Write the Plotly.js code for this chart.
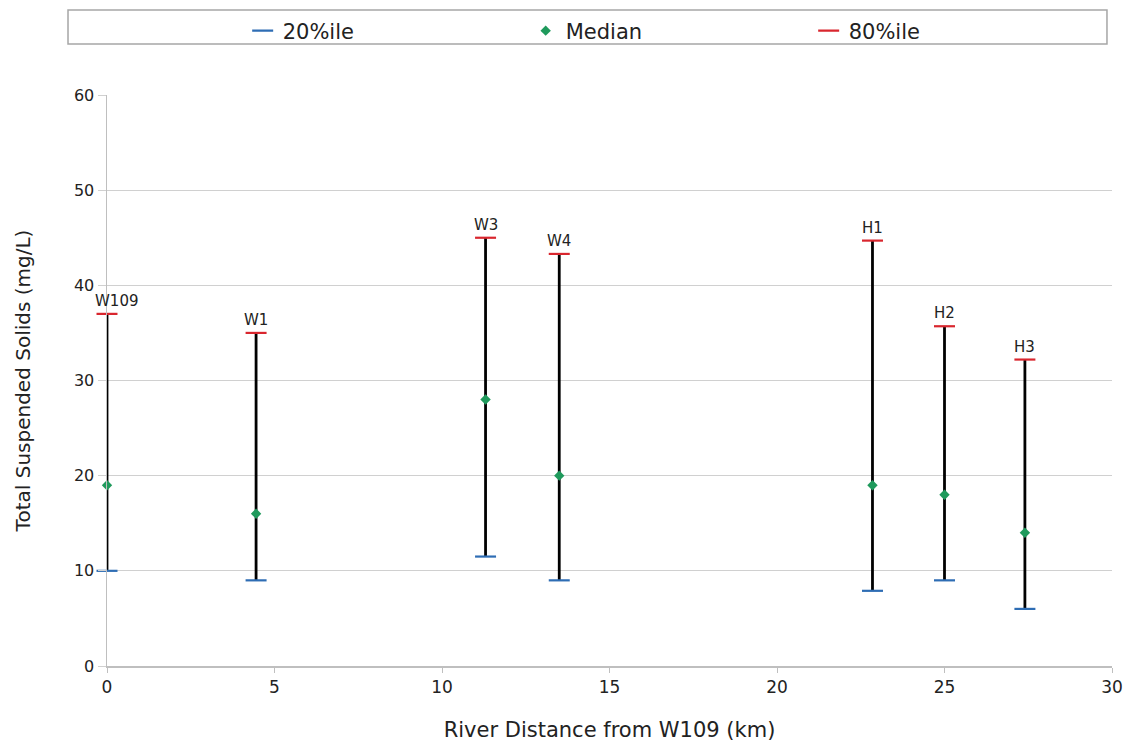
<!DOCTYPE html>
<html>
<head>
<meta charset="utf-8">
<script src="https://cdn.plot.ly/plotly-3.0.1.min.js"></script>
<style>html,body{margin:0;padding:0;background:#fff;}#chart{width:1132px;height:749px;}</style>
</head>
<body>
<div id="chart"></div>
<script>
const sites = ["W109", "W1", "W3", "W4", "H1", "H2", "H3"];
const distanceKm = [0, 4.45, 11.3, 13.5, 22.85, 25.0, 27.4];
const p20 = [10, 9, 11.5, 9, 7.9, 9, 6];
const median = [19, 16, 28, 20, 19, 18, 14];
const p80 = [37, 35, 45, 43.3, 44.7, 35.7, 32.2];

const FONT = "'DejaVu Sans', sans-serif";

const traces = [];
// vertical range lines
sites.forEach((s, i) => {
  traces.push({
    x: [distanceKm[i], distanceKm[i]],
    y: [p20[i], p80[i]],
    mode: 'lines',
    line: {color: '#000', width: 2.8},
    showlegend: false,
    hoverinfo: 'skip'
  });
});
traces.push({
  name: '20%ile', x: distanceKm, y: p20, mode: 'markers', cliponaxis: false,
  marker: {symbol: 'line-ew', size: 15, line: {color: '#2e6db4', width: 2.2}}
});
traces.push({
  name: 'Median', x: distanceKm, y: median, mode: 'markers', cliponaxis: false,
  marker: {symbol: 'diamond', size: 8, color: '#1f9a5c'}
});
traces.push({
  name: '80%ile', x: distanceKm, y: p80, mode: 'markers', cliponaxis: false,
  marker: {symbol: 'line-ew', size: 15, line: {color: '#d9262e', width: 2.2}}
});

// site labels just above the 80%ile marks
const annotations = sites.map((s, i) => ({
  x: distanceKm[i], y: p80[i], xref: 'x', yref: 'y',
  text: s, showarrow: false, xanchor: 'center', yanchor: 'bottom',
  yshift: 2, xshift: i === 0 ? 9 : 0,
  font: {family: FONT, size: 15, color: '#222'}
}));

const layout = {
  width: 1132, height: 749,
  margin: {l: 107, r: 20, t: 95, b: 83, autoexpand: false},
  paper_bgcolor: '#fff', plot_bgcolor: '#fff',
  font: {family: FONT, size: 17, color: '#222'},
  xaxis: {
    range: [0, 30], dtick: 5, tick0: 0, automargin: false,
    showgrid: false, zeroline: false,
    showline: true, linecolor: '#bfbfbf', linewidth: 1.5,
    ticks: 'outside', ticklen: 5, tickcolor: '#bfbfbf',
    tickfont: {family: FONT, size: 17, color: '#222'},
    title: {text: 'River Distance from W109 (km)', font: {family: FONT, size: 21, color: '#222'}, standoff: 26}
  },
  yaxis: {
    range: [0, 60], dtick: 10, tick0: 0, automargin: false,
    showgrid: true, gridcolor: '#d0d0d0', gridwidth: 1, zeroline: false,
    showline: true, linecolor: '#bfbfbf', linewidth: 1.5,
    ticks: 'outside', ticklen: 8, tickcolor: '#d0d0d0',
    tickfont: {family: FONT, size: 16, color: '#222'},
    title: {text: 'Total Suspended Solids (mg/L)', font: {family: FONT, size: 20, color: '#222'}, standoff: 38}
  },
  showlegend: true,
  legend: {
    orientation: 'h', x: 0.135, xanchor: 'left', y: 1.148, yanchor: 'top',
    bgcolor: 'rgba(0,0,0,0)', borderwidth: 0,
    entrywidth: 238, itemwidth: 30,
    font: {family: FONT, size: 21, color: '#222'}
  },
  annotations: annotations,
  shapes: [{
    type: 'rect', xref: 'paper', yref: 'paper',
    x0: -0.0388, x1: 0.995, y0: 1.0893, y1: 1.1489,
    line: {color: '#a6a6a6', width: 1.5}, fillcolor: 'rgba(0,0,0,0)'
  }]
};

Plotly.newPlot('chart', traces, layout, {staticPlot: true});
</script>
</body>
</html>
